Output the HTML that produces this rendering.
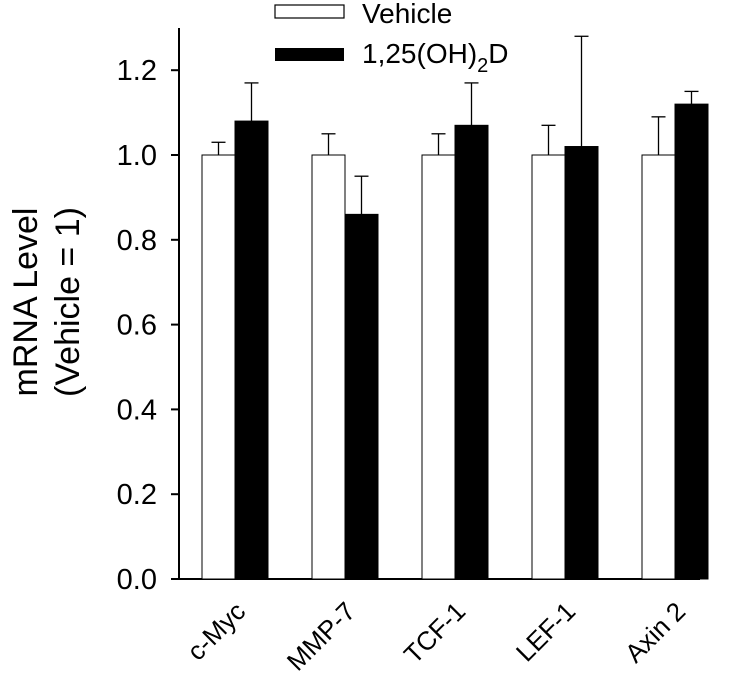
<!DOCTYPE html>
<html><head><meta charset="utf-8"><style>
body{margin:0;background:#fff}
svg{display:block;font-family:"Liberation Sans",Arial,sans-serif}
</style></head><body>
<svg id="chart" width="732" height="678">
<g id="g"></g>
<rect x="275" y="5" width="69" height="13" fill="#fff" stroke="#000" stroke-width="1.2"/>
<text x="362" y="23" font-size="28">Vehicle</text>
<rect x="275" y="48" width="69" height="13" fill="#000"/>
<text x="362" y="63" font-size="28">1,25(OH)<tspan font-size="20" dy="9">2</tspan><tspan dy="-9">D</tspan></text>
<text transform="translate(37 302) rotate(-90)" text-anchor="middle" font-size="34">mRNA Level</text>
<text transform="translate(79 302) rotate(-90)" text-anchor="middle" font-size="34">(Vehicle = 1)</text>
</svg>
<script>
const categories=["c-Myc","MMP-7","TCF-1","LEF-1","Axin 2"];
const vehicleVals=[1.0,1.0,1.0,1.0,1.0];
const vehicleErr=[0.03,0.05,0.05,0.07,0.09];
const treatVals=[1.08,0.86,1.07,1.02,1.12];
const treatErr=[0.09,0.09,0.10,0.26,0.03];
const yTicks=[0,0.2,0.4,0.6,0.8,1.0,1.2];
const tickLabels=["0.0","0.2","0.4","0.6","0.8","1.0","1.2"];

const NS="http://www.w3.org/2000/svg";
const g=document.getElementById('g');
const y0=579, pxPer=424, axX=179;
const yS=v=>y0-v*pxPer;
const xS=i=>202+i*110;
const bw=33;
function mk(t,a,p){const e=document.createElementNS(NS,t);for(const k in a)e.setAttribute(k,a[k]);(p||g).appendChild(e);return e;}

let e=mk('line',{x1:axX,y1:28,x2:axX,y2:y0+1,stroke:'#000','stroke-width':2});


e=mk('line',{x1:174,y1:y0,x2:700,y2:y0,stroke:'#000','stroke-width':2});



yTicks.forEach((v,i)=>{
  const t=mk('line',{x1:axX-8,y1:yS(v),x2:axX,y2:yS(v),stroke:'#000','stroke-width':2});
  
  
  const l=mk('text',{x:157,y:yS(v)+10,'text-anchor':'end','font-size':29});
  l.textContent=tickLabels[i];
  
  
});

function errBar(cx,v,er){
  const yt=yS(v+er);
  mk('line',{x1:cx,y1:yS(v),x2:cx,y2:yt,stroke:'#000','stroke-width':1.3});
  mk('line',{x1:cx-7,y1:yt,x2:cx+7,y2:yt,stroke:'#000','stroke-width':1.3});
}

categories.forEach((c,i)=>{
  const x=xS(i);
  errBar(x+bw/2,vehicleVals[i],vehicleErr[i]);
  errBar(x+bw*1.5,treatVals[i],treatErr[i]);
  let b=mk('rect',{x:x,y:yS(vehicleVals[i]),width:bw,height:y0-yS(vehicleVals[i]),fill:'#fff',stroke:'#000','stroke-width':1});
  
  
  b=mk('rect',{x:x+bw,y:yS(treatVals[i]),width:bw,height:y0-yS(treatVals[i]),fill:'#000',stroke:'#000','stroke-width':1});
  
  
  const cx=x+bw+12, cy=y0+34;
  const l=mk('text',{x:cx,y:cy,'text-anchor':'end','font-size':26,transform:`rotate(-45 ${cx} ${cy})`});
  l.textContent=c;
  
  
});
</script>
</body></html>
